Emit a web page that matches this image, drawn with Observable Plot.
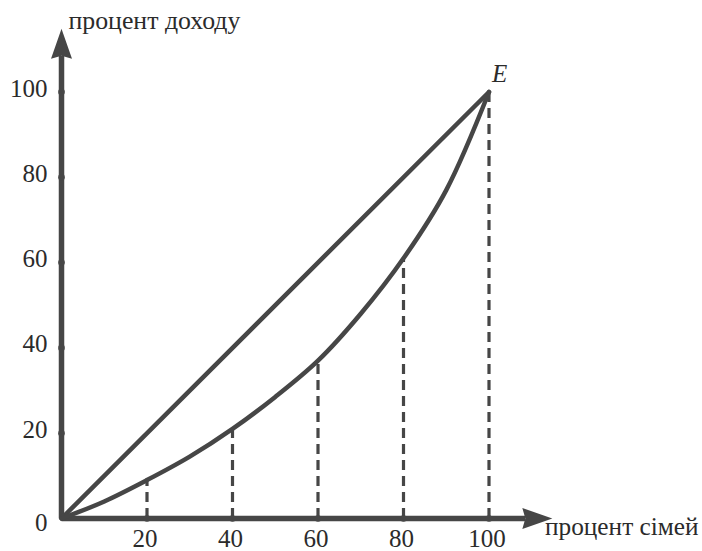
<!DOCTYPE html>
<html>
<head>
<meta charset="utf-8">
<script src="https://cdn.jsdelivr.net/npm/d3@7"></script>
<script src="https://cdn.jsdelivr.net/npm/@observablehq/plot@0.6"></script>
<style>
  html, body { margin: 0; padding: 0; background: #fff; }
</style>
</head>
<body>
<div id="chart"></div>
<script>
// Data
const familyPct = [0, 10, 20, 30, 40, 50, 60, 70, 80, 90, 100];
const incomePct = [0, 4, 9, 14.5, 21, 28.5, 37, 48, 61, 77, 100];
const dropFamily = [20, 40, 60, 80, 100];
const dropIncome = [9, 21, 37, 61, 100];
const equalityX = [0, 100];
const equalityY = [0, 100];
const xTicks = [20, 40, 60, 80, 100];
const yTicks = [20, 40, 60, 80, 100];
const xLabel = "процент сімей";
const yLabel = "процент доходу";
const pointLabel = "E";

const lorenz = familyPct.map((x, i) => ({x, y: incomePct[i]}));
const drops = dropFamily.map((x, i) => ({x, y: dropIncome[i]}));
const equality = equalityX.map((x, i) => ({x, y: equalityY[i]}));

const ink = "#464646";
const textInk = "#2b2b2b";
const serif = "Liberation Serif";

function arrowMarker(color, context) {
  const doc = context.document;
  const ns = "http://www.w3.org/2000/svg";
  const m = doc.createElementNS(ns, "marker");
  m.setAttribute("viewBox", "0 -12 32 24");
  m.setAttribute("markerWidth", "32");
  m.setAttribute("markerHeight", "24");
  m.setAttribute("markerUnits", "userSpaceOnUse");
  m.setAttribute("refX", "3");
  m.setAttribute("refY", "0");
  m.setAttribute("orient", "auto");
  const p = doc.createElementNS(ns, "path");
  p.setAttribute("d", "M30,0 L0,-10.5 L3,0 L0,10.5 Z");
  p.setAttribute("fill", color);
  p.setAttribute("stroke", "none");
  m.appendChild(p);
  return m;
}

const plot = Plot.plot({
  width: 702,
  height: 551,
  marginLeft: 61,
  marginRight: 213.5,
  marginTop: 91.5,
  marginBottom: 33,
  x: {domain: [0, 100], axis: null},
  y: {domain: [0, 100], axis: null},
  marks: [
    // dashed verticals
    Plot.ruleX(drops, {x: "x", y1: 0, y2: "y", stroke: ink, strokeWidth: 3.2, strokeDasharray: "10,6"}),
    // axes with arrows
    Plot.link([0], {x1: 0, y1: 0, x2: 108.5, y2: 0, stroke: ink, strokeWidth: 5.5, markerEnd: arrowMarker}),
    Plot.link([0], {x1: 0, y1: 0, x2: 0, y2: 108.5, stroke: ink, strokeWidth: 5.5, markerEnd: arrowMarker}),
    // tick dots
    Plot.dot(xTicks, {x: d => d, y: 0, r: 3.3, fill: ink}),
    Plot.dot(yTicks, {x: 0, y: d => d, r: 3.3, fill: ink}),
    // equality line and Lorenz curve
    Plot.line(equality, {x: "x", y: "y", stroke: ink, strokeWidth: 4.5, strokeLinecap: "round"}),
    Plot.line(lorenz, {x: "x", y: "y", curve: "catmull-rom", stroke: ink, strokeWidth: 4.5, strokeLinecap: "round"}),
    // tick labels
    Plot.text(xTicks, {x: d => d, y: 0, text: d => String(d), dy: 20, dx: -2, fill: textInk, fontSize: 25, fontFamily: serif}),
    Plot.text(yTicks, {x: 0, y: d => d, text: d => String(d), textAnchor: "end", dx: -14, dy: -3.5, fill: textInk, fontSize: 25, fontFamily: serif}),
    Plot.text([0], {x: 0, y: 0, text: d => String(d), textAnchor: "end", dx: -14, dy: 4, fill: textInk, fontSize: 25, fontFamily: serif}),
    // axis titles
    Plot.text([yLabel], {x: 0, y: 100, text: d => d, textAnchor: "start", lineAnchor: "bottom", dx: 7, dy: -63, fill: textInk, fontSize: 25.8, fontFamily: serif}),
    Plot.text([xLabel], {x: 100, y: 0, text: d => d, textAnchor: "start", lineAnchor: "bottom", dx: 56, dy: 16, fill: textInk, fontSize: 25.3, fontFamily: serif}),
    // point label
    Plot.text([pointLabel], {x: 100, y: 100, text: d => d, textAnchor: "start", lineAnchor: "bottom", dx: 3, dy: -10, fill: textInk, fontSize: 25, fontStyle: "italic", fontFamily: serif})
  ]
});

document.getElementById("chart").appendChild(plot);
</script>
</body>
</html>
